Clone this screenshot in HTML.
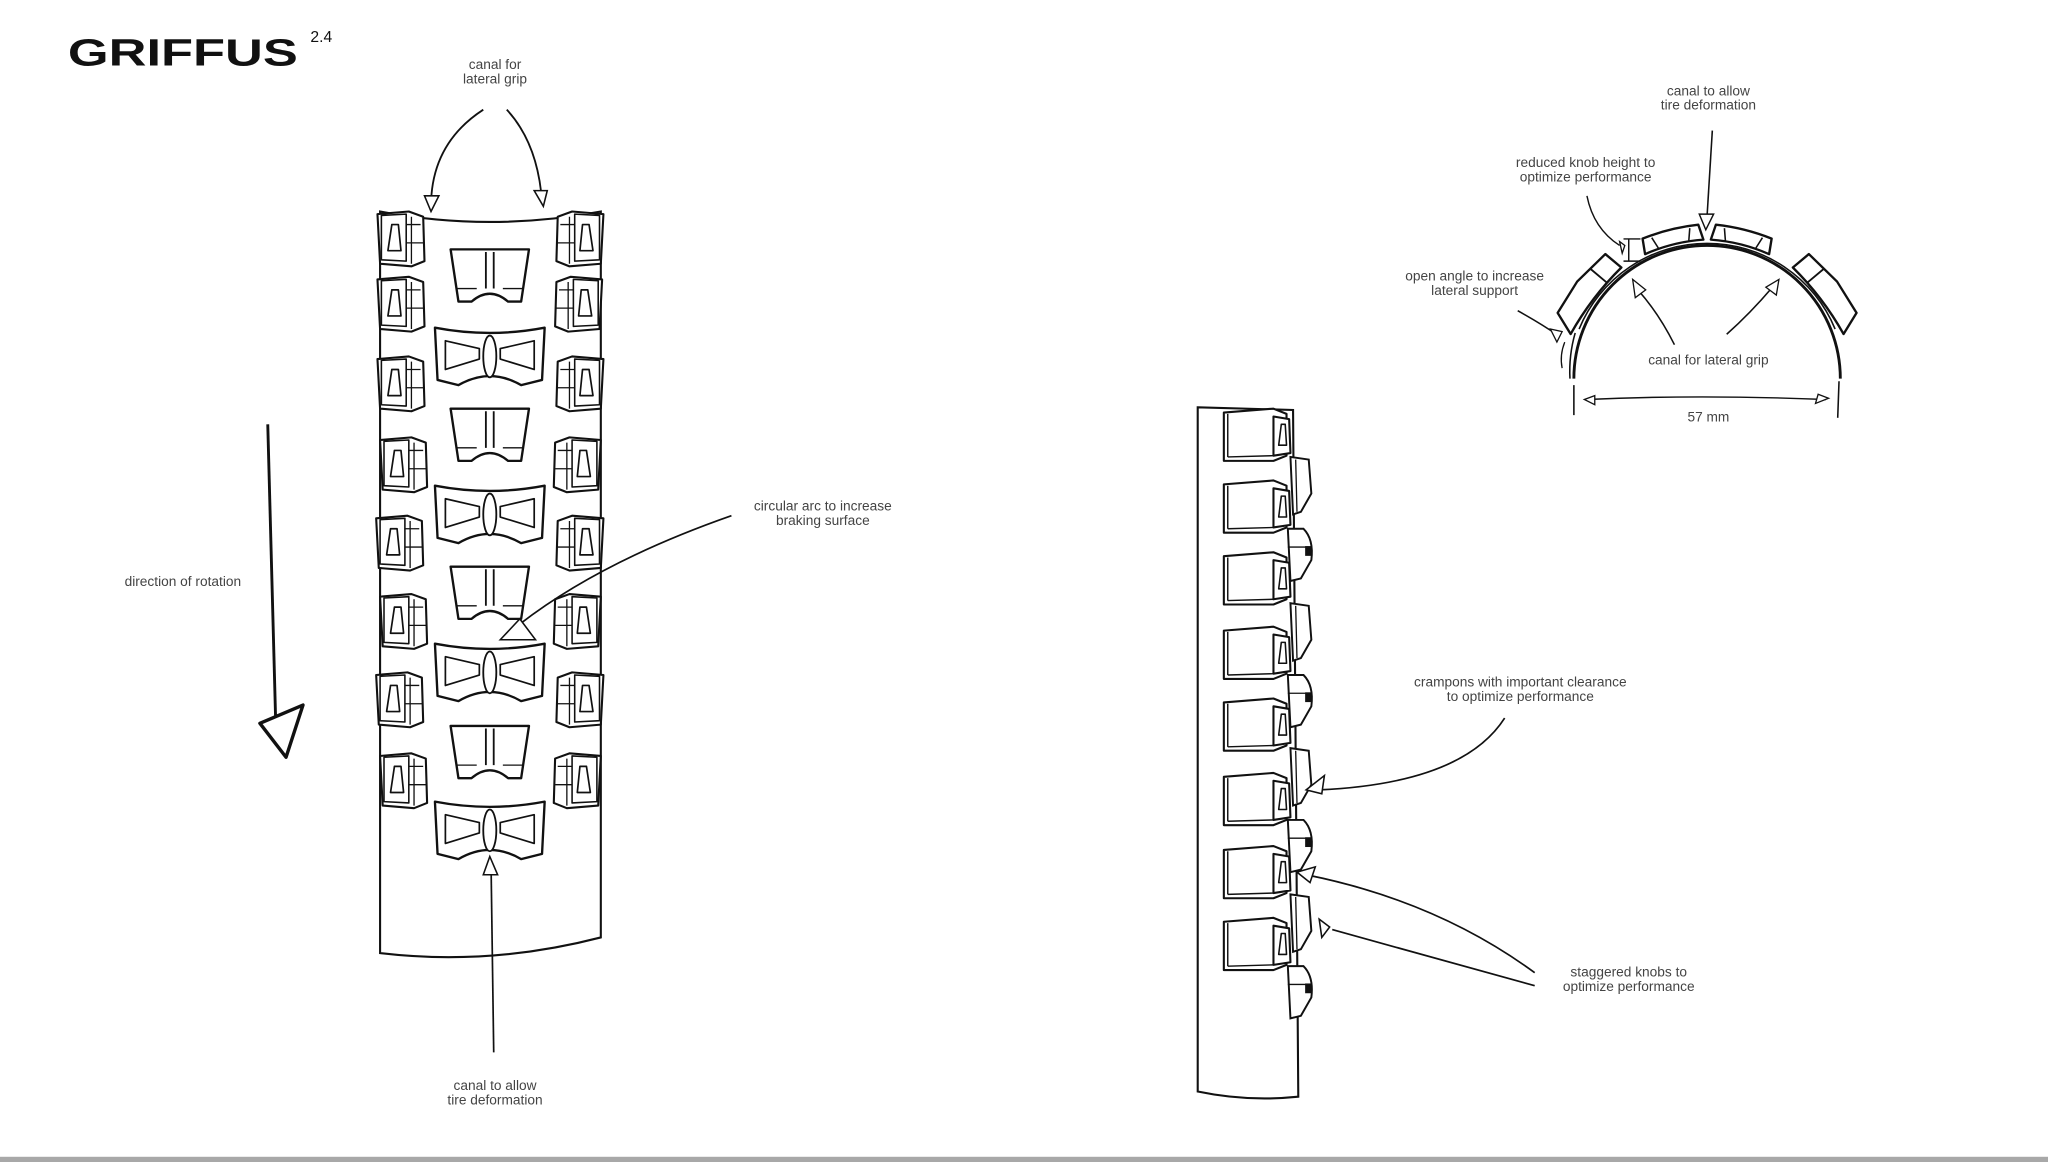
<!DOCTYPE html>
<html><head><meta charset="utf-8"><style>
html,body{margin:0;padding:0;background:#fff;}
svg{display:block;}
text{font-family:"Liberation Sans",sans-serif;font-size:10.5px;fill:#444;text-anchor:middle;}
</style></head><body>
<svg width="2048" height="1162" viewBox="0 0 1568 890" preserveAspectRatio="none" xmlns="http://www.w3.org/2000/svg">
<defs>
<g id="sl" fill="#fff" stroke="#111" stroke-width="1.6" stroke-linejoin="round">
  <path d="M0 2 L24 0 L35 4 L36 38 L26 42 L2 40 Z"/>
  <path d="M3 3 L22 2 L22 38 L3 37 Z" stroke-width="1.2"/>
  <path d="M8 30 L11 10 L16 10 L18 30 Z" stroke-width="1.3"/>
  <path d="M22 10 L33 10 M22 24 L35 24 M26 4 L26 40" stroke-width="1"/>
</g>
<g id="ca" fill="#fff" stroke="#111" stroke-width="1.8" stroke-linejoin="round">
  <path d="M0 0 L60 0 L54 40 L44 40 Q30 28 16 40 L6 40 Z"/>
  <path d="M27 2 L27 30 M33 2 L33 30" stroke-width="1.4"/>
  <path d="M4 30 L20 30 M40 30 L56 30" stroke-width="1"/>
</g>
<g id="cb" fill="#fff" stroke="#111" stroke-width="1.8" stroke-linejoin="round">
  <path d="M0 0 Q42 8 84 0 L82 40 L66 44 Q42 30 18 44 L2 40 Z"/>
  <path d="M8 10 L34 16 L34 24 L8 32 Z M76 10 L50 16 L50 24 L76 32 Z" stroke-width="1.3"/>
  <ellipse cx="42" cy="22" rx="5" ry="16" stroke-width="1.4"/>
</g>
<g id="rk" fill="#fff" stroke="#111" stroke-width="1.6" stroke-linejoin="round">
  <path d="M0 3 L38 0 L48 4 L48 36 L38 40 L0 40 Z"/>
  <path d="M3 4 L3 37 M3 37 L38 36" stroke-width="1.1"/>
  <path d="M38 6 L50 8 L51 34 L38 36 Z"/>
  <path d="M42 28 L44 12 L47 12 L48 28 Z" stroke-width="1.2"/>
</g>
<g id="fl" fill="#fff" stroke="#111" stroke-width="1.5"><path d="M0 0 L14 2 L16 28 L8 42 L2 44 Z"/><path d="M4 2 L5 42" stroke-width="1"/></g>
<g id="rd" fill="#fff" stroke="#111" stroke-width="1.5"><path d="M0 0 L12 0 Q20 8 18 24 L10 38 L2 40 Z"/><path d="M0 14 L16 14" stroke-width="1"/><rect x="14" y="14" width="3" height="6" fill="#111"/></g>
<g id="tk" fill="#fff" stroke="#111" stroke-width="1.8" stroke-linejoin="round">
  <path d="M1284 186 L1285 174 Q1307 171 1329 174 L1330 186 Q1307 182 1284 186 Z"/>
  <path d="M1292 175 L1295 184 M1322 175 L1319 184" stroke-width="1.2"/>
</g>
<g id="sk" fill="#fff" stroke="#111" stroke-width="1.8" stroke-linejoin="round">
  <path d="M1330 185 L1330 169 L1300 166 L1272 170 L1266 188 Q1298 182 1330 185 Z"/>
  <path d="M1314 168 L1314 184" stroke-width="1.4"/>
</g>
</defs>

<!-- title -->
<text x="52" y="50" textLength="176" lengthAdjust="spacingAndGlyphs" style="font-size:29px;font-weight:bold;fill:#111;text-anchor:start;">GRIFFUS</text>
<text x="246" y="32" style="font-size:12px;fill:#111;">2.4</text>

<!-- left tire -->
<path d="M291 162 Q375 178 460 162 L460 718 Q375 740 291 730 Z" fill="#fff" stroke="#111" stroke-width="1.6"/>
<g>
<use href="#sl" x="289" y="162"/><use href="#sl" transform="translate(462,162) scale(-1,1)"/>
<use href="#sl" transform="translate(289,212) scale(1,1)"/><use href="#sl" transform="translate(461,212) scale(-1,1)"/>
<use href="#sl" x="289" y="273"/><use href="#sl" transform="translate(462,273) scale(-1,1)"/>
<use href="#sl" x="291" y="335"/><use href="#sl" transform="translate(460,335) scale(-1,1)"/>
<use href="#sl" x="288" y="395"/><use href="#sl" transform="translate(462,395) scale(-1,1)"/>
<use href="#sl" x="291" y="455"/><use href="#sl" transform="translate(460,455) scale(-1,1)"/>
<use href="#sl" x="288" y="515"/><use href="#sl" transform="translate(462,515) scale(-1,1)"/>
<use href="#sl" x="291" y="577"/><use href="#sl" transform="translate(460,577) scale(-1,1)"/>
</g>
<use href="#ca" x="345" y="191"/><use href="#cb" x="333" y="251"/>
<use href="#ca" x="345" y="313"/><use href="#cb" x="333" y="372"/>
<use href="#ca" x="345" y="434"/><use href="#cb" x="333" y="493"/>
<use href="#ca" x="345" y="556"/><use href="#cb" x="333" y="614"/>

<!-- left labels/arrows -->
<text x="379" y="53">canal for</text><text x="379" y="64">lateral grip</text>
<path d="M370 84 Q330 110 330 158 M388 84 Q412 110 415 155" fill="none" stroke="#111" stroke-width="1.4"/>
<path d="M325 150 L336 150 L330 162 Z M409 146 L419 146 L416 158 Z" fill="#fff" stroke="#111" stroke-width="1.2"/>
<text x="140" y="449">direction of rotation</text>
<path d="M205 325 L211 550" stroke="#111" stroke-width="2.2"/>
<path d="M199 554 L232 540 L219 580 Z" fill="#fff" stroke="#111" stroke-width="2.6" stroke-linejoin="round"/>
<text x="630" y="391">circular arc to increase</text><text x="630" y="402">braking surface</text>
<path d="M560 395 Q460 430 398 478" fill="none" stroke="#111" stroke-width="1.3"/>
<path d="M383 490 L398 474 L410 490 Z" fill="#fff" stroke="#111" stroke-width="1.2"/>
<text x="379" y="835">canal to allow</text><text x="379" y="846">tire deformation</text>
<path d="M376 665 L378 806" stroke="#111" stroke-width="1.3"/>
<path d="M370 670 L375 656 L381 670 Z" fill="#fff" stroke="#111" stroke-width="1.2"/>

<!-- right strip -->
<path d="M917 312 L990 314 L994 840 Q955 844 917 836 Z" fill="#fff" stroke="#111" stroke-width="1.6"/>
<use href="#rk" x="937" y="313"/><use href="#rk" x="937" y="368"/><use href="#rk" x="937" y="423"/><use href="#rk" x="937" y="480"/>
<use href="#rk" x="937" y="535"/><use href="#rk" x="937" y="592"/><use href="#rk" x="937" y="648"/><use href="#rk" x="937" y="703"/>
<use href="#fl" x="988" y="350"/><use href="#rd" x="986" y="405"/><use href="#fl" x="988" y="462"/><use href="#rd" x="986" y="517"/>
<use href="#fl" x="988" y="573"/><use href="#rd" x="986" y="628"/><use href="#fl" x="988" y="685"/><use href="#rd" x="986" y="740"/>

<text x="1164" y="526">crampons with important clearance</text><text x="1164" y="537">to optimize performance</text>
<path d="M1152 550 Q1120 600 1010 605" fill="none" stroke="#111" stroke-width="1.3"/>
<path d="M1000 605 L1014 594 L1012 608 Z" fill="#fff" stroke="#111" stroke-width="1.2"/>
<text x="1247" y="748">staggered knobs to</text><text x="1247" y="759">optimize performance</text>
<path d="M1175 745 Q1100 690 1000 670 M1175 755 L1020 712" fill="none" stroke="#111" stroke-width="1.3"/>
<path d="M993 668 L1007 664 L1003 676 Z M1010 704 L1018 710 L1012 718 Z" fill="#fff" stroke="#111" stroke-width="1.2"/>

<!-- cross section -->
<path d="M1205 290 A102 102 0 0 1 1409 290" fill="none" stroke="#111" stroke-width="2.2"/>
<path d="M1209 252 A106 106 0 0 1 1405 252" fill="none" stroke="#111" stroke-width="1.2"/>
<path d="M1202 290 A106 106 0 0 1 1206 255" fill="none" stroke="#111" stroke-width="1.2"/>
<path d="M1198 262 Q1194 272 1196 282" fill="none" stroke="#111" stroke-width="1"/>
<use href="#tk" transform="rotate(-14,1307,290)"/>
<use href="#tk" transform="rotate(14,1307,290)"/>
<use href="#sk" transform="rotate(-50,1307,290)"/>
<use href="#sk" transform="rotate(50,1307,290) translate(2614,0) scale(-1,1)"/>
<path d="M1247 183 L1247 200 M1243 183 L1256 183 M1243 200 L1256 200" stroke="#111" stroke-width="1.1"/>
<text x="1308" y="73">canal to allow</text><text x="1308" y="84">tire deformation</text>
<path d="M1311 100 L1307 165" stroke="#111" stroke-width="1.2"/>
<path d="M1301 164 L1312 164 L1306 176 Z" fill="#fff" stroke="#111" stroke-width="1.1"/>
<text x="1214" y="128">reduced knob height to</text><text x="1214" y="139">optimize performance</text>
<path d="M1215 150 Q1220 175 1240 188" fill="none" stroke="#111" stroke-width="1.1"/>
<path d="M1240 185 L1244 188 L1242 194 Z" fill="#fff" stroke="#111" stroke-width="1"/>
<text x="1129" y="215">open angle to increase</text><text x="1129" y="226">lateral support</text>
<path d="M1162 238 Q1180 248 1193 257" fill="none" stroke="#111" stroke-width="1.2"/>
<path d="M1187 252 L1196 254 L1192 262 Z" fill="#fff" stroke="#111" stroke-width="1"/>
<text x="1308" y="279">canal for lateral grip</text>
<path d="M1282 264 Q1270 240 1254 222 M1322 256 Q1340 240 1357 220" fill="none" stroke="#111" stroke-width="1.2"/>
<path d="M1250 214 L1260 222 L1252 228 Z M1352 220 L1362 214 L1360 226 Z" fill="#fff" stroke="#111" stroke-width="1"/>
<path d="M1205 295 L1205 318 M1408 292 L1407 320" stroke="#111" stroke-width="1.2"/>
<path d="M1215 306 Q1300 302 1398 306" fill="none" stroke="#111" stroke-width="1.1"/>
<path d="M1221 303 L1213 306 L1221 310 Z M1392 302 L1400 305 L1390 309 Z" fill="#fff" stroke="#111" stroke-width="1"/>
<text x="1308" y="323">57 mm</text>

<!-- bottom bar -->
<rect x="0" y="886" width="1568" height="4" fill="#a8a8a8"/>
</svg>
</body></html>
